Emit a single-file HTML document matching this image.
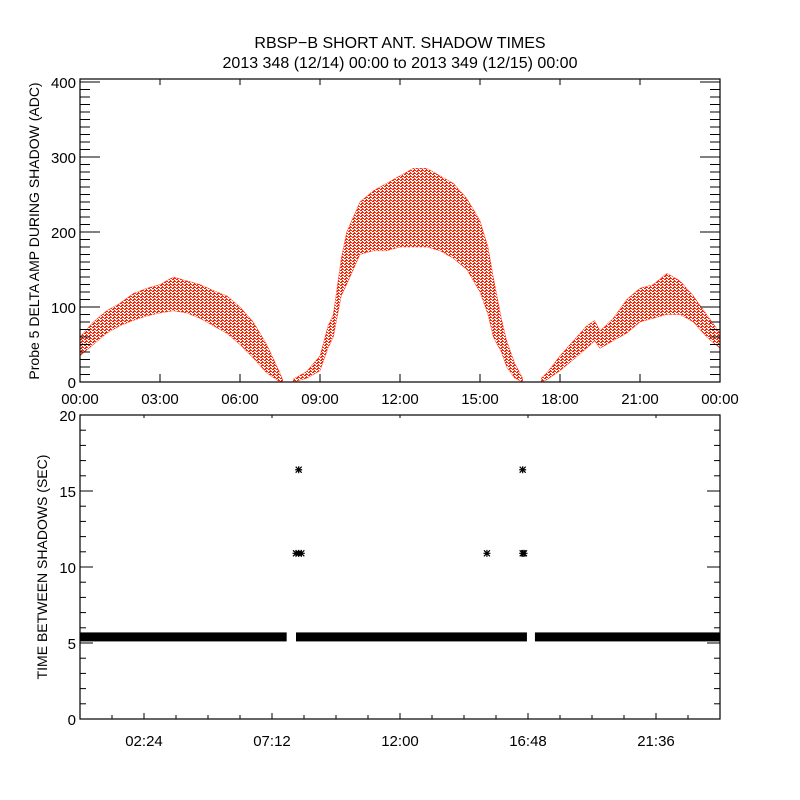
<!DOCTYPE html>
<html><head><meta charset="utf-8"><style>
body{margin:0;background:#fff}
svg{display:block}
text{font-family:"Liberation Sans",sans-serif;fill:#000}
</style></head><body>
<svg id="chart" width="800" height="800" viewBox="0 0 800 800" xmlns="http://www.w3.org/2000/svg">
<defs>
<pattern id="dots" width="4" height="3" patternUnits="userSpaceOnUse">
<rect x="0" y="0" width="2" height="1" fill="#ff2200"/>
<rect x="2" y="1" width="1" height="1" fill="#ff2200"/>
<rect x="1" y="2" width="2" height="1" fill="#ff2200"/>
<rect x="3" y="2" width="1" height="1" fill="#ff2200"/>
</pattern>
</defs>
<rect width="800" height="800" fill="#fff"/>
<text x="400" y="48" font-size="16" text-anchor="middle">RBSP−B SHORT ANT. SHADOW TIMES</text>
<text x="400" y="68" font-size="16" text-anchor="middle">2013 348 (12/14) 00:00 to 2013 349 (12/15) 00:00</text>
<g id="topPanel"></g>
<g id="botPanel"></g>
</svg>
<script>
// ---- top panel data (bands of delta amplitude per time, hours) ----
const seg1Times=[0,0.5,1,1.5,2,2.5,3,3.5,4,4.5,5,5.5,6,6.5,7,7.5,7.6];
const seg1Low=[35,50,65,75,82,88,92,95,92,85,75,65,50,32,12,0,0];
const seg1High=[60,80,95,105,118,125,130,140,135,130,122,115,100,80,50,12,3];
const seg2Times=[8.0,8.5,9.0,9.3,9.5,9.8,10.0,10.5,11,11.5,12,12.5,13,13.5,14,14.5,15,15.3,15.5,15.8,16,16.3,16.6];
const seg2Low=[0,5,15,45,60,115,130,170,175,175,180,180,180,175,165,150,120,90,60,40,20,5,0];
const seg2High=[4,14,35,75,90,165,200,240,255,265,275,285,285,275,265,245,215,180,140,85,55,25,5];
const seg3Times=[17.3,17.5,18,18.5,19,19.3,19.5,20,20.5,21,21.5,22,22.5,23,23.5,24];
const seg3Low=[0,3,15,30,45,55,45,55,65,80,85,90,90,80,60,45];
const seg3High=[5,12,35,55,75,82,68,85,110,125,130,145,135,115,90,65];
const topXTicks=["00:00","03:00","06:00","09:00","12:00","15:00","18:00","21:00","00:00"];
const topYTicks=[0,100,200,300,400];
// ---- bottom panel data ----
const bandStarts=[0,8.1,17.06];
const bandEnds=[7.75,16.76,24];
const bandValue=[5.4,5.4,5.4];
const starTimes=[8.2,8.1,8.2,8.3,15.26,16.6,16.6,16.65];
const starValues=[16.4,10.9,10.9,10.9,10.9,16.4,10.9,10.9];
const botXTicks=["02:24","07:12","12:00","16:48","21:36"];
const botYTicks=[0,5,10,15,20];

const NS="http://www.w3.org/2000/svg";
function mk(tag,attrs,parent){const e=document.createElementNS(NS,tag);for(const k in attrs)e.setAttribute(k,attrs[k]);parent.appendChild(e);return e;}
const L=80,R=720;
const xs=h=>L+(R-L)*h/24;
const tT=79,tB=382;
const yT=v=>382-0.75*v;
const topG=document.getElementById('topPanel');
function band(times,lo,hi,name){
  let d="M"+times.map((t,i)=>xs(t).toFixed(1)+","+yT(hi[i]).toFixed(1)).join(" L");
  for(let i=times.length-1;i>=0;i--)d+=" L"+xs(times[i]).toFixed(1)+","+yT(lo[i]).toFixed(1);
  const p=mk('path',{d:d+"Z",fill:"url(#dots)",stroke:"#ff2200","stroke-width":"0.6","stroke-opacity":"0.6"},topG);
  
  
}
band(seg1Times,seg1Low,seg1High,'amp-scatter-segment-1');
band(seg2Times,seg2Low,seg2High,'amp-scatter-segment-2');
band(seg3Times,seg3Low,seg3High,'amp-scatter-segment-3');
const tf=mk('rect',{x:L,y:tT,width:R-L,height:tB-tT,fill:"none",stroke:"#000","stroke-width":"1.2"},topG);


for(let v=0;v<=400;v+=10){const major=v%100===0;const len=major?20:10;
  mk('line',{x1:L,x2:L+len,y1:yT(v),y2:yT(v),stroke:"#000"},topG);
  mk('line',{x1:R,x2:R-len,y1:yT(v),y2:yT(v),stroke:"#000"},topG);}
topYTicks.forEach(v=>{const t=mk('text',{x:L-4,y:yT(v)+6,"font-size":"15","text-anchor":"end"},topG);t.textContent=v;
  
  });
topXTicks.forEach((s,i)=>{const x=xs(i*3);
  mk('line',{x1:x,x2:x,y1:tB,y2:tB-8,stroke:"#000"},topG);mk('line',{x1:x,x2:x,y1:tT,y2:tT+6,stroke:"#000"},topG);
  const t=mk('text',{x:x,y:tB+22,"font-size":"15","text-anchor":"middle"},topG);t.textContent=s;
  
  });
const ty=mk('text',{x:0,y:0,"font-size":"14","text-anchor":"middle",transform:"translate(39,231) rotate(-90)"},topG);
ty.textContent="Probe 5 DELTA AMP DURING SHADOW (ADC)";


const bT=415,bB=719;
const yB=v=>719-15.2*v;
const botG=document.getElementById('botPanel');
bandStarts.forEach((s,i)=>{const r=mk('rect',{x:xs(s),y:yB(bandValue[i])-4.5,width:xs(bandEnds[i])-xs(s),height:9,fill:"#000"},botG);
  
  });
starTimes.forEach((t,i)=>{const x=xs(t),y=yB(starValues[i]);
  const g=mk('path',{d:`M${x-3.5},${y}H${x+3.5}M${x},${y-3.5}V${y+3.5}M${x-3},${y-3}L${x+3},${y+3}M${x-3},${y+3}L${x+3},${y-3}`,stroke:"#000","stroke-width":"1.2"},botG);
  
  });
const bf=mk('rect',{x:L,y:bT,width:R-L,height:bB-bT,fill:"none",stroke:"#000","stroke-width":"1.2"},botG);


for(let v=0;v<=20;v++){const major=v%5===0;const len=major?13:6;
  mk('line',{x1:L,x2:L+len,y1:yB(v),y2:yB(v),stroke:"#000"},botG);
  mk('line',{x1:R,x2:R-len,y1:yB(v),y2:yB(v),stroke:"#000"},botG);}
botYTicks.forEach(v=>{const t=mk('text',{x:L-4,y:yB(v)+6,"font-size":"15","text-anchor":"end"},botG);t.textContent=v;
  
  });
for(let k=0;k<=20;k++){const x=xs(k*1.2);const major=(k-2)%4===0&&k>=2;
  mk('line',{x1:x,x2:x,y1:bB,y2:bB-(major?6:4),stroke:"#000"},botG);
  if(major)mk('line',{x1:x,x2:x,y1:bT,y2:bT+3,stroke:"#000"},botG);}
botXTicks.forEach((s,i)=>{const x=xs(2.4+4.8*i);
  const t=mk('text',{x:x,y:bB+27,"font-size":"15","text-anchor":"middle"},botG);t.textContent=s;
  
  });
const by=mk('text',{x:0,y:0,"font-size":"14","text-anchor":"middle",transform:"translate(47,567) rotate(-90)"},botG);
by.textContent="TIME BETWEEN SHADOWS (SEC)";


</script>
</body></html>
